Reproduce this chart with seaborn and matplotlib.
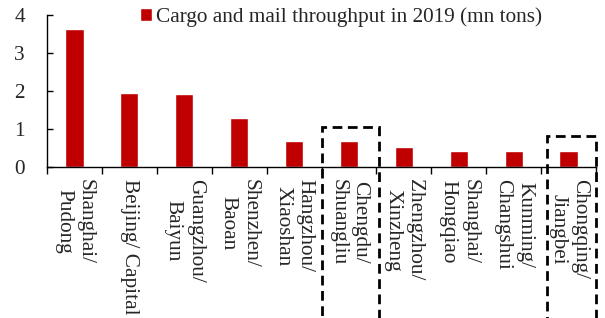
import matplotlib
matplotlib.use("Agg")
import matplotlib.pyplot as plt
import matplotlib.patches as mpatches
import seaborn as sns
import pandas as pd

categories = ["Shanghai/\nPudong", "Beijing/ Capital", "Guangzhou/\nBaiyun", "Shenzhen/\nBaoan",
              "Hangzhou/\nXiaoshan", "Chengdu/\nShuangliu", "Zhengzhou/\nXinzheng",
              "Shanghai/\nHongqiao", "Kunming/\nChangshui", "Chongqing/\nJiangbei"]
values = [3.63, 1.95, 1.91, 1.28, 0.68, 0.67, 0.52, 0.41, 0.41, 0.41]
series_label = "Cargo and mail throughput in 2019 (mn tons)"
yticks = [0, 1, 2, 3, 4]

sns.set_style("ticks")
plt.rcParams['font.family'] = ['Liberation Serif', 'DejaVu Serif']
plt.rcParams['font.size'] = 15.3

df = pd.DataFrame({"airport": categories, "value": values})

fig = plt.figure(figsize=(6.05, 3.18), dpi=100)
ax = fig.add_axes([47/605, 1-166.7/318, (596-47)/605, (166.7-15.3)/318])

sns.barplot(data=df, x="airport", y="value", color="#C00000", width=0.33,
            saturation=1, label=series_label, ax=ax)

ax.set_xlim(-0.5, len(categories) - 0.5)
ax.set_ylim(0, 4)
ax.set_yticks(yticks)
ax.set_xlabel("")
ax.set_ylabel("")
ax.set_xticks([i - 0.5 for i in range(len(categories) + 1)], minor=False)
ax.set_xticklabels([])
ax.set_xticks(range(len(categories)), minor=True)
ax.set_xticklabels(categories, minor=True, rotation=270, ha="center", va="top",
                   multialignment="center")
ax.tick_params(axis="x", which="major", direction="out", length=5, width=1, color="black")
ax.tick_params(axis="x", which="minor", length=0, pad=9)
ax.tick_params(axis="y", direction="in", length=4.5, width=1, pad=16, color="black")
for s in ["top", "right"]:
    ax.spines[s].set_visible(False)
for s in ["left", "bottom"]:
    ax.spines[s].set_color("black")
    ax.spines[s].set_linewidth(1)

leg = ax.legend(loc="upper left", bbox_to_anchor=(138/605, 1 - 5/318), bbox_transform=fig.transFigure,
                frameon=False, handlelength=0.55, handleheight=0.55, handletextpad=0.2,
                borderpad=0.1, borderaxespad=0)

rects = [(4.5, 5.55, 1.057), (8.6, 9.5, 0.80)]
for x0, x1, top in rects:
    r = mpatches.Rectangle((x0, -10), x1 - x0, top + 10, fill=False, edgecolor="black",
                           linewidth=2.0, linestyle=(0, (3.5, 2)), clip_on=False,
                           transform=ax.transData, zorder=5)
    ax.add_patch(r)

fig.savefig("out.png", dpi=100)
